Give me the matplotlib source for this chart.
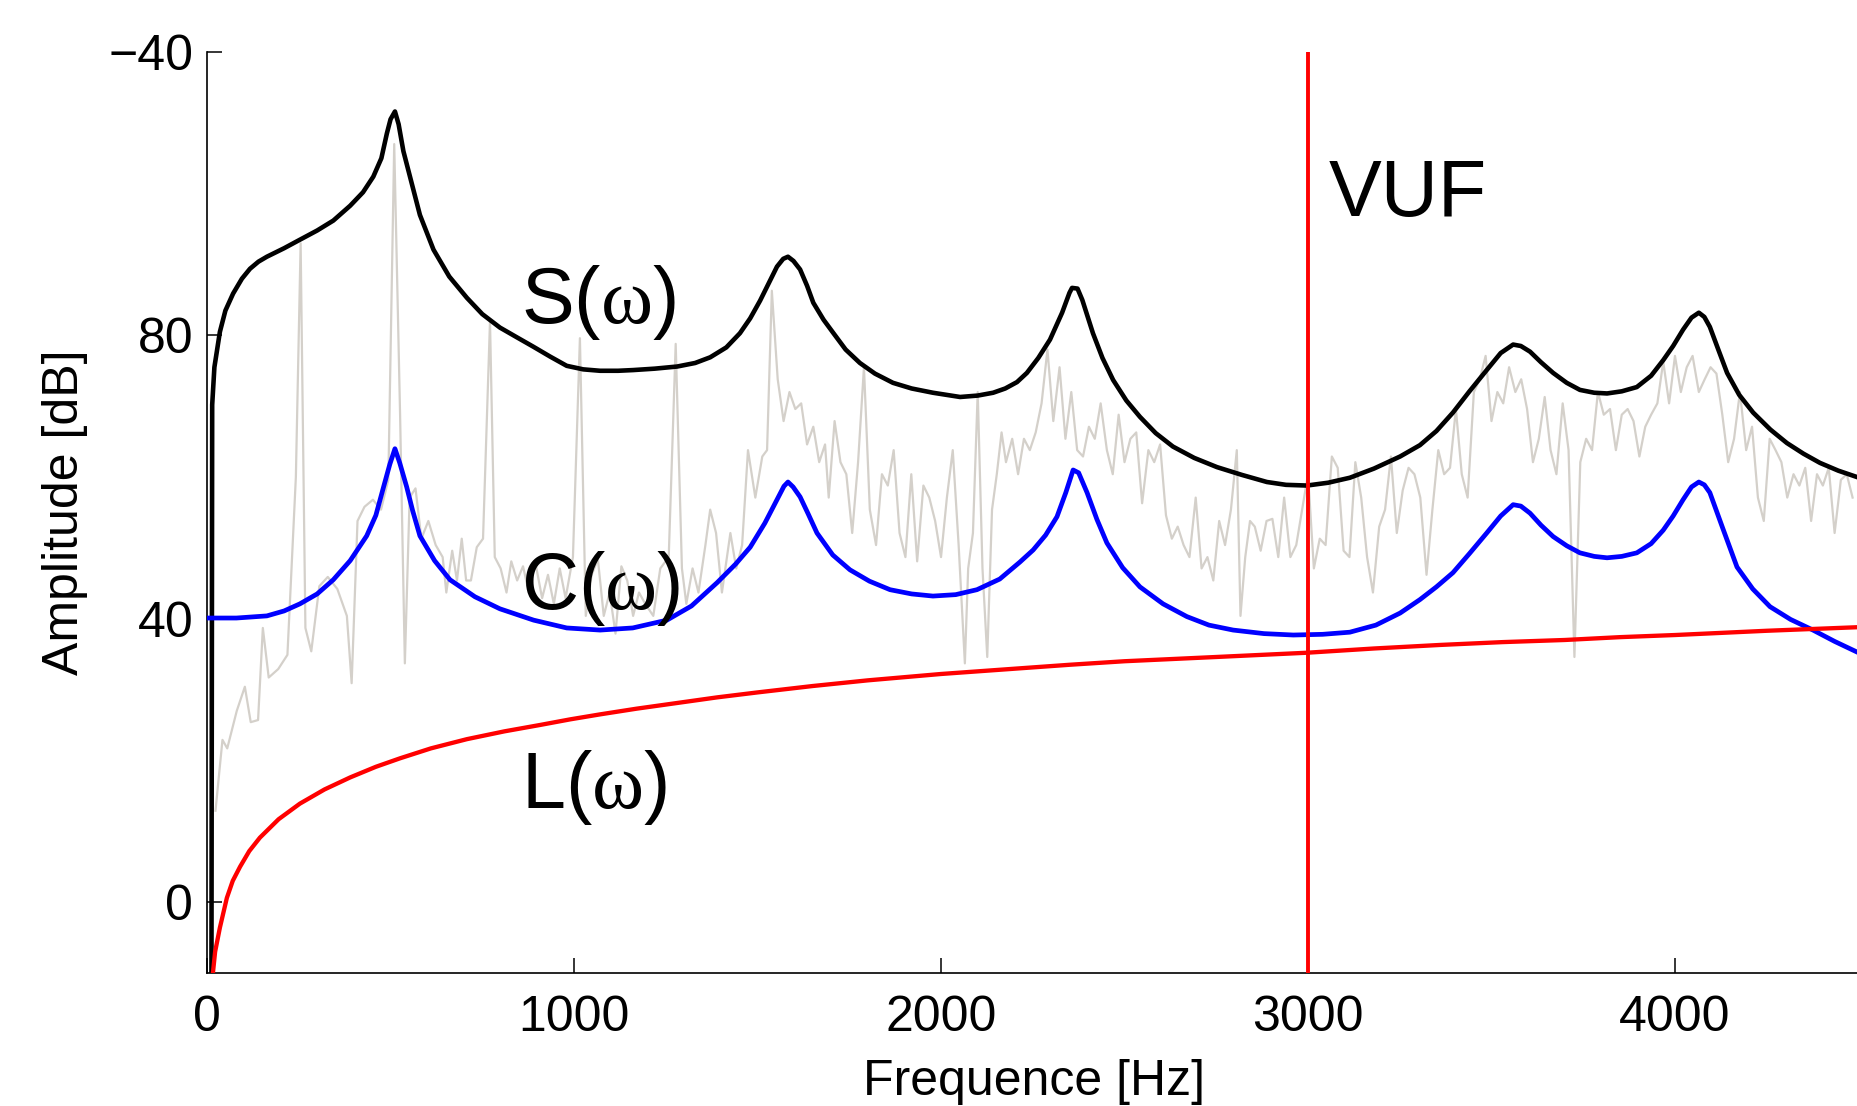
import matplotlib
matplotlib.use("Agg")
import matplotlib.pyplot as plt

spectre = [
    (23, 12.9), (42, 22.9), (55, 21.7), (81, 27.0), (103, 30.4), (119, 25.4), (139, 25.7),
    (152, 38.7), (168, 31.7), (194, 32.9), (219, 34.9), (242, 60.0), (255, 93.0), (268, 38.7),
    (284, 35.4), (306, 44.6), (329, 45.9), (355, 44.2), (381, 40.4), (394, 30.9), (410, 53.8),
    (429, 55.8), (452, 56.8), (474, 55.4), (494, 59.6), (510, 107.0), (526, 68.8), (539, 33.7),
    (552, 57.1), (568, 58.4), (584, 51.3), (603, 53.8), (623, 50.4), (642, 48.7), (652, 43.7),
    (668, 49.6), (681, 45.4), (694, 51.3), (706, 45.4), (719, 45.4), (735, 50.1), (752, 51.3),
    (771, 82.0), (784, 48.7), (800, 47.1), (816, 43.7), (829, 48.1), (845, 45.4), (861, 47.4),
    (877, 43.7), (894, 48.1), (913, 42.9), (929, 46.2), (945, 42.1), (961, 47.1), (977, 42.9),
    (997, 48.7), (1016, 79.6), (1032, 40.4), (1048, 46.2), (1065, 48.4), (1081, 40.4), (1097, 43.7),
    (1113, 37.9), (1129, 47.4), (1145, 45.4), (1161, 40.4), (1177, 43.7), (1194, 42.1), (1216, 40.4),
    (1235, 47.1), (1258, 48.7), (1277, 78.8), (1294, 47.1), (1306, 42.1), (1323, 47.1), (1339, 43.7),
    (1358, 50.4), (1371, 55.4), (1387, 52.1), (1403, 43.7), (1426, 52.1), (1442, 47.1), (1458, 50.4),
    (1474, 63.8), (1494, 57.1), (1513, 62.9), (1526, 63.8), (1539, 86.3), (1555, 73.8), (1571, 67.9),
    (1587, 72.0), (1603, 69.6), (1619, 70.4), (1635, 64.6), (1652, 67.1), (1668, 62.1), (1684, 64.6),
    (1694, 57.1), (1710, 67.9), (1726, 62.1), (1742, 60.4), (1758, 52.1), (1774, 62.1), (1790, 75.5),
    (1806, 55.4), (1823, 50.4), (1839, 60.4), (1855, 58.8), (1871, 63.8), (1887, 52.1), (1903, 48.7),
    (1919, 60.4), (1935, 48.1), (1952, 58.8), (1968, 57.1), (1984, 53.8), (2000, 48.7), (2016, 57.1),
    (2032, 63.8), (2048, 50.4), (2065, 33.7), (2074, 47.1), (2087, 52.1), (2100, 72.0), (2113, 47.1),
    (2126, 34.6), (2139, 55.4), (2152, 60.4), (2165, 66.3), (2177, 62.1), (2194, 65.4), (2210, 60.4),
    (2226, 65.4), (2242, 63.8), (2258, 66.3), (2274, 70.4), (2290, 78.0), (2306, 67.9), (2323, 75.5),
    (2339, 65.4), (2355, 72.0), (2371, 63.8), (2387, 62.9), (2403, 67.1), (2419, 65.4), (2435, 70.4),
    (2452, 63.8), (2468, 60.4), (2484, 68.8), (2500, 62.1), (2516, 65.4), (2532, 66.3), (2548, 56.3),
    (2565, 63.8), (2581, 62.1), (2597, 64.6), (2613, 54.6), (2629, 51.3), (2645, 53.0), (2661, 50.4),
    (2677, 48.7), (2694, 57.1), (2710, 47.1), (2726, 48.7), (2742, 45.4), (2758, 53.8), (2774, 50.4),
    (2790, 55.4), (2806, 63.8), (2816, 40.4), (2829, 48.7), (2842, 53.8), (2855, 53.0), (2871, 49.6),
    (2887, 53.8), (2903, 54.1), (2919, 48.7), (2935, 57.1), (2952, 48.7), (2968, 50.4), (2984, 55.4),
    (3000, 60.4), (3016, 47.1), (3032, 51.3), (3048, 50.4), (3065, 62.9), (3081, 61.3), (3097, 49.6),
    (3113, 48.7), (3129, 62.1), (3145, 57.1), (3161, 48.7), (3177, 43.7), (3194, 53.0), (3210, 55.4),
    (3226, 62.9), (3242, 52.1), (3258, 58.1), (3274, 61.3), (3290, 60.4), (3306, 57.1), (3323, 46.2),
    (3339, 55.4), (3355, 63.8), (3371, 60.4), (3387, 61.3), (3403, 69.6), (3419, 60.4), (3435, 57.1),
    (3452, 72.0), (3468, 73.8), (3484, 77.1), (3500, 67.9), (3516, 72.0), (3532, 70.4), (3548, 75.5),
    (3565, 72.0), (3581, 73.8), (3597, 69.6), (3613, 62.1), (3629, 65.4), (3645, 71.3), (3661, 63.8),
    (3677, 60.4), (3694, 70.4), (3710, 63.8), (3726, 34.6), (3742, 62.1), (3758, 65.4), (3774, 63.8),
    (3790, 72.0), (3806, 68.8), (3823, 69.6), (3839, 63.8), (3855, 68.8), (3871, 69.6), (3887, 67.9),
    (3903, 62.9), (3919, 67.1), (3935, 68.8), (3952, 70.4), (3968, 76.3), (3984, 70.4), (4000, 77.1),
    (4016, 72.0), (4032, 75.5), (4048, 77.1), (4065, 72.0), (4081, 73.8), (4097, 75.5), (4113, 74.6),
    (4129, 68.8), (4145, 62.1), (4161, 65.4), (4177, 72.0), (4194, 63.8), (4210, 67.1), (4226, 57.1),
    (4242, 53.8), (4258, 65.4), (4274, 63.8), (4290, 62.1), (4306, 57.1), (4323, 60.4), (4339, 58.8),
    (4355, 61.3), (4371, 53.8), (4387, 60.4), (4403, 58.8), (4419, 61.3), (4435, 52.1), (4452, 59.6),
    (4468, 60.4), (4484, 57.1),
]

# S(w) : enveloppe du signal (noir)
s_curve = [
    (12, -10), (14, 70.2), (20, 75.5), (35, 80.5), (50, 83.5), (71, 85.9), (95, 88.0), (117, 89.4),
    (140, 90.4), (163, 91.1), (210, 92.3), (253, 93.5), (300, 94.8), (344, 96.2), (390, 98.3),
    (425, 100.2), (453, 102.4), (475, 105.0), (490, 108.5), (500, 110.5), (512, 111.6), (522, 109.8),
    (535, 106.0), (553, 102.4), (580, 97.0), (617, 92.1), (660, 88.3), (708, 85.3), (750, 83.0),
    (798, 81.1), (845, 79.7), (889, 78.4), (935, 77.0), (980, 75.7), (1025, 75.2), (1071, 75.0),
    (1120, 75.0), (1161, 75.1), (1220, 75.3), (1281, 75.6), (1330, 76.1), (1371, 76.9), (1415, 78.3),
    (1452, 80.3), (1480, 82.4), (1507, 84.9), (1530, 87.3), (1553, 89.7), (1570, 90.8), (1583, 91.1),
    (1598, 90.5), (1616, 89.3), (1635, 87.0), (1652, 84.6), (1680, 82.2), (1707, 80.3), (1740, 78.0),
    (1779, 76.1), (1820, 74.6), (1869, 73.3), (1920, 72.5), (1978, 71.9), (2052, 71.3), (2100, 71.5),
    (2142, 71.9), (2175, 72.5), (2207, 73.4), (2234, 74.7), (2265, 76.8), (2297, 79.4), (2330, 83.2),
    (2350, 86.0), (2357, 86.7), (2372, 86.6), (2385, 85.0), (2414, 80.3), (2440, 76.8), (2469, 73.7),
    (2505, 70.8), (2542, 68.5), (2585, 66.2), (2632, 64.3), (2690, 62.7), (2752, 61.4), (2820, 60.3),
    (2888, 59.3), (2940, 58.9), (2997, 58.8), (3055, 59.2), (3114, 59.9), (3180, 61.2), (3251, 62.9),
    (3305, 64.5), (3350, 66.5), (3395, 69.1), (3440, 72.1), (3487, 75.1), (3525, 77.5), (3559, 78.7),
    (3580, 78.5), (3605, 77.7), (3635, 76.2), (3668, 74.7), (3705, 73.3), (3741, 72.3), (3780, 71.9),
    (3815, 71.8), (3855, 72.1), (3896, 72.7), (3935, 74.3), (3968, 76.5), (3995, 78.5), (4022, 80.8),
    (4045, 82.5), (4065, 83.2), (4080, 82.6), (4095, 81.2), (4118, 78.0), (4142, 74.7), (4175, 71.6),
    (4213, 69.1), (4260, 66.7), (4305, 64.8), (4350, 63.3), (4395, 62.0), (4445, 60.9), (4496, 60.0),
]

# C(w) : conduit vocal (bleu)
c_curve = [
    (0, 40.1), (80, 40.1), (163, 40.4), (210, 41.1), (253, 42.1), (300, 43.5), (344, 45.5),
    (390, 48.2), (435, 51.7), (460, 54.6), (481, 58.6), (498, 61.8), (512, 64.0), (525, 62.0),
    (544, 58.6), (560, 55.3), (580, 51.7), (620, 48.2), (662, 45.5), (730, 43.1), (798, 41.4),
    (890, 39.8), (980, 38.7), (1071, 38.4), (1160, 38.7), (1253, 39.8), (1320, 41.8), (1390, 45.1),
    (1440, 47.7), (1480, 50.1), (1520, 53.5), (1553, 56.8), (1572, 58.7), (1583, 59.3), (1597, 58.6),
    (1616, 57.2), (1638, 54.8), (1662, 52.1), (1705, 49.0), (1752, 46.9), (1805, 45.3), (1861, 44.1),
    (1920, 43.5), (1978, 43.2), (2040, 43.4), (2098, 44.1), (2160, 45.6), (2215, 48.0), (2251, 49.7),
    (2285, 51.8), (2316, 54.4), (2340, 57.8), (2360, 61.0), (2375, 60.6), (2398, 57.8), (2425, 54.0),
    (2452, 50.7), (2495, 47.2), (2542, 44.5), (2605, 42.1), (2670, 40.3), (2730, 39.1), (2796, 38.4),
    (2880, 37.9), (2960, 37.7), (3040, 37.8), (3114, 38.1), (3185, 39.1), (3251, 40.8), (3305, 42.7),
    (3350, 44.5), (3395, 46.5), (3440, 49.2), (3487, 52.1), (3525, 54.5), (3559, 56.1), (3580, 55.9),
    (3605, 54.9), (3635, 53.2), (3668, 51.6), (3705, 50.3), (3741, 49.3), (3780, 48.8), (3815, 48.6),
    (3855, 48.8), (3896, 49.3), (3935, 50.6), (3968, 52.5), (3995, 54.5), (4022, 56.8), (4045, 58.6),
    (4065, 59.3), (4080, 58.9), (4095, 57.8), (4130, 52.8), (4169, 47.3), (4212, 44.2), (4259, 41.7),
    (4315, 39.9), (4376, 38.4), (4435, 36.8), (4496, 35.3),
]

# L(w) : rayonnement aux levres (rouge)
l_curve = [
    (16, -10), (22, -7.0), (35, -3.6), (54, 0.6), (70, 3.0), (90, 5.0), (115, 7.2), (144, 9.1),
    (195, 11.7), (253, 13.9), (320, 15.9), (390, 17.6), (460, 19.1), (526, 20.3), (610, 21.7),
    (708, 23.0), (810, 24.1), (907, 25.0), (990, 25.8), (1071, 26.5), (1170, 27.3), (1280, 28.1),
    (1390, 28.9), (1500, 29.6), (1650, 30.5), (1800, 31.3), (2000, 32.2), (2215, 33.0), (2350, 33.5),
    (2500, 34.0), (2750, 34.6), (2997, 35.2), (3180, 35.8), (3360, 36.3), (3530, 36.7), (3700, 37.0),
    (3850, 37.4), (4000, 37.7), (4250, 38.3), (4496, 38.8),
]

vuf_hz = 3000
y_ticks = [0, 40, 80, 120]
y_ticklabels = ['0', '40', '80', '\u221240']
x_ticks = [0, 1000, 2000, 3000, 4000]

plt.rcParams['font.family'] = ['Liberation Sans', 'DejaVu Sans']
plt.rcParams['mathtext.fontset'] = 'custom'
plt.rcParams['mathtext.rm'] = 'Liberation Serif'
plt.rcParams['mathtext.it'] = 'Liberation Serif:italic'

fig = plt.figure(figsize=(18.57, 11.06), dpi=100)
ax = fig.add_axes([0.1115, 0.1203, 0.8885, 0.8327])


def xy(pts):
    return [p[0] for p in pts], [p[1] for p in pts]


ax.plot(*xy(spectre), color='#d4d0ca', lw=1.6, zorder=1)
ax.plot(*xy(s_curve), color='black', lw=3.3, zorder=3, solid_joinstyle='round')
ax.plot(*xy(c_curve), color='#0000ff', lw=3.4, zorder=3, solid_joinstyle='round')
ax.plot(*xy(l_curve), color='#ff0000', lw=3.1, zorder=3, solid_joinstyle='round')
ax.axvline(vuf_hz, color='#ff0000', lw=2.8, zorder=4)

# Annotations des courbes
fs_lab = 57
ax.text(855, 84.6, r'S($\mathrm{\omega}$)', fontsize=fs_lab, va='center', ha='left')
ax.text(855, 44.2, r'C($\mathrm{\omega}$)', fontsize=fs_lab, va='center', ha='left')
ax.text(855, 16.2, r'L($\mathrm{\omega}$)', fontsize=fs_lab, va='center', ha='left')
ax.text(3055, 99.7, 'VUF', fontsize=fs_lab, va='center', ha='left')

ax.set_xlim(0, 4496)
ax.set_ylim(-10, 120)
ax.set_xticks(x_ticks)
ax.set_yticks(y_ticks)
ax.set_yticklabels(y_ticklabels)

for side in ['top', 'right']:
    ax.spines[side].set_visible(False)
for side in ['left', 'bottom']:
    ax.spines[side].set_linewidth(1.2)

ax.tick_params(direction='in', length=11, width=1.1, labelsize=36)
ax.tick_params(axis='x', pad=16)
ax.tick_params(axis='y', pad=10)

ax.set_xlabel('Frequence [Hz]', fontsize=36)
ax.set_ylabel('Amplitude [dB]', fontsize=36)
ax.xaxis.set_label_coords(0.501, -0.093)
ax.yaxis.set_label_coords(-0.072, 0.5)
ax.xaxis.label.set_va('top')

fig.savefig('out.png', dpi=100)
